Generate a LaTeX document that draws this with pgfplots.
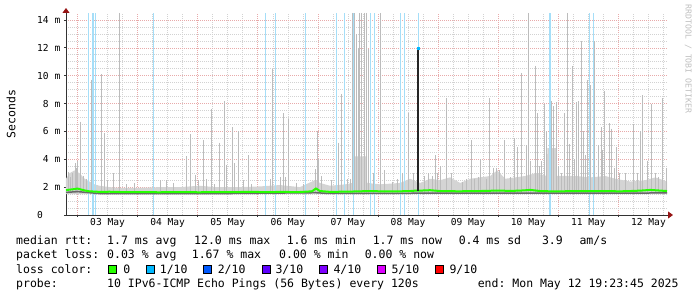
\documentclass[border=0pt]{standalone}
\usepackage{fontspec}
\setmonofont{DejaVu Sans Mono}
\usepackage{pgfplots}
\usepackage{pgfplotstable}
\pgfplotsset{compat=1.18}
\usetikzlibrary{arrows.meta}
\definecolor{gridmaj}{RGB}{232,170,170}
\definecolor{gridmin}{RGB}{210,210,210}
\definecolor{smoke}{RGB}{212,212,212}
\definecolor{spike}{RGB}{188,188,188}
\definecolor{smokedark}{RGB}{105,105,105}
\definecolor{lossbar}{RGB}{165,222,248}
\definecolor{loss0}{RGB}{38,255,0}
\definecolor{loss1}{RGB}{0,184,255}
\definecolor{loss2}{RGB}{0,89,255}
\definecolor{loss3}{RGB}{94,0,255}
\definecolor{loss4}{RGB}{126,0,255}
\definecolor{loss5}{RGB}{221,0,255}
\definecolor{loss9}{RGB}{255,0,0}
\definecolor{arrowred}{RGB}{150,20,20}
\newcommand{\txt}{\fontsize{11.5}{14}\selectfont\ttfamily}
\newcommand{\tck}{\fontsize{9.6}{10}\selectfont\ttfamily}

% spikes: h = hours since 03 May 00:00, t = top of spike (ms), e = t - 1.6
\pgfplotstableread{
h t e
-3.8 3.1 1.5
-2.8 2.7 1.1
-2.0 3.0 1.4
-0.92 3.7 2.1
-0.4 3.4 1.8
0 3.9 2.3
1.2 6.7 5.1
2.4 2.8 1.2
3.6 2.6 1.0
5.4 9.7 8.1
7.2 2.7 1.1
9.72 10.1 8.5
10.6 5.9 4.3
12.0 2.5 0.9
14.4 3.0 1.4
16.8 14.5 12.9
19.6 2.2 0.6
22.8 2.3 0.7
33.0 2.5 0.9
35.6 2.5 0.9
38.4 2.3 0.7
43.7 4.2 2.6
45.1 5.8 4.2
47.0 2.9 1.3
48.4 2.5 0.9
50.4 5.4 3.8
51.6 2.6 1.0
53.7 7.6 6.0
54.8 2.2 0.6
56.5 5.2 3.6
58.5 8.2 6.6
59.5 3.6 2.0
61.7 6.3 4.7
62.7 3.7 2.1
64.1 6.0 4.4
66.1 2.5 0.9
68.1 4.3 2.7
69.6 2.2 0.6
77.1 2.6 1.0
77.9 10.5 8.9
79.1 2.5 0.9
81.2 2.7 1.1
82.1 7.3 5.7
83.2 2.7 1.1
84.4 6.9 5.3
87.6 2.3 0.7
90.4 2.2 0.6
95.0 3.3 1.7
95.7 6.0 4.4
96.4 4.0 2.4
97.6 2.8 1.2
101.6 2.5 0.9
103.5 8.8 7.2
104.4 5.2 3.6
105.3 8.7 7.1
106.7 3.0 1.4
107.7 2.6 1.0
109.1 2.6 1.0
110.0 14.5 12.9
110.8 14.5 12.9
111.6 13.0 11.4
112.3 12.0 10.4
112.8 14.5 12.9
113.6 14.5 12.9
114.5 14.5 12.9
115.2 14.5 12.9
116.0 11.9 10.3
116.8 8.5 6.9
118.0 3.0 1.4
118.4 7.5 5.9
120.8 14.5 12.9
122.4 3.2 1.6
125.6 2.4 0.8
127.9 2.6 1.0
129.6 3.0 1.4
130.4 5.3 3.7
132.1 7.3 5.7
134.1 3.0 1.4
136.0 13.2 11.6
138.4 2.8 1.2
140.0 3.0 1.4
141.6 2.8 1.2
142.8 4.3 2.7
143.6 3.0 1.4
144.8 3.5 1.9
147.5 8.4 6.8
149.5 3.0 1.4
153.6 2.4 0.8
155.2 2.6 1.0
157.3 5.4 3.8
158.4 2.6 1.0
160.0 2.7 1.1
161.1 4.0 2.4
163.2 2.6 1.0
164.4 8.4 6.8
166.0 3.4 1.8
167.2 3.4 1.8
168.4 3.2 1.6
170.4 5.4 3.8
173.1 2.7 1.1
174.4 5.5 3.9
175.6 4.9 3.3
177.2 10.2 8.6
179.1 5.0 3.4
180.0 14.5 12.9
180.8 3.9 2.3
182.7 10.7 9.1
183.5 7.3 5.7
184.4 3.5 1.9
185.2 3.9 2.3
186.4 8.0 6.4
187.2 6.0 4.4
188.6 14.5 12.9
189.2 8.2 6.6
190.0 7.8 6.2
191.2 8.1 6.5
192.0 3.5 1.9
193.2 3.0 1.4
194.4 7.3 5.7
195.7 14.5 12.9
196.4 5.1 3.5
197.5 10.7 9.1
198.4 4.0 2.4
199.3 8.1 6.5
200.0 8.2 6.6
201.2 12.5 10.9
202.0 6.0 4.4
202.8 4.3 2.7
203.7 9.7 8.1
204.8 9.3 7.7
206.6 12.5 10.9
208.0 5.0 3.4
209.1 6.3 4.7
209.7 4.7 3.1
210.6 8.9 7.3
212.4 6.6 5.0
213.2 6.2 4.6
214.4 3.4 1.8
215.2 4.9 3.3
216.4 3.0 1.4
218.8 3.0 1.4
222.0 6.5 4.9
223.6 3.0 1.4
224.8 6.0 4.4
225.6 8.6 7.0
227.6 3.9 2.3
229.3 8.0 6.4
230.8 3.0 1.4
232.0 2.7 1.1
233.5 8.4 6.8
235.1 3.4 1.8
}\spikes

\begin{document}
\begin{tikzpicture}[x=1pt,y=1pt]
\path[use as bounding box] (0,0) rectangle (697,297);
\begin{axis}[
  at={(66pt,82pt)}, anchor=south west,
  scale only axis, width=601pt, height=202pt,
  xmin=-4.6, xmax=235.4, ymin=0, ymax=14.5,
  axis lines=left,
  axis line style={draw=black!80, line width=0.8pt, -{Triangle[length=5pt,width=7pt,color=arrowred]}},
  x axis line style={shorten >=-6pt},
  y axis line style={shorten >=-5pt},
  xtick={0,24,...,216},
  xticklabels={,,,,,,,,,},
  minor xtick={6,12,18,30,36,42,54,60,66,78,84,90,102,108,114,126,132,138,150,156,162,174,180,186,198,204,210,222,228,234},
  extra x ticks={12,36,60,84,108,132,156,180,204,228},
  extra x tick labels={03 May,04 May,05 May,06 May,07 May,08 May,09 May,10 May,11 May,12 May},
  extra x tick style={grid=none, major tick length=0pt},
  ytick={0,2,...,14},
  yticklabels={\rlap{0}\phantom{14 m},2 m,4 m,6 m,8 m,10 m,12 m,14 m},
  minor ytick={0.5,1,1.5,2.5,3,3.5,4.5,5,5.5,6.5,7,7.5,8.5,9,9.5,10.5,11,11.5,12.5,13,13.5},
  grid=both,
  major grid style={draw=gridmaj, dash pattern=on 1pt off 1pt, line width=0.65pt},
  minor grid style={draw=gridmin, dash pattern=on 1pt off 1pt, line width=0.65pt},
  tick align=outside, major tick length=2pt, minor tick length=0pt,
  tick style={draw=black!80, line width=0.8pt},
  ticklabel style={font=\tck},
  yticklabel style={inner sep=0pt, xshift=-3.5pt},
  xticklabel style={inner sep=0pt, yshift=-3pt},
  ylabel={Seconds},
  ylabel style={font=\txt, at={(axis description cs:-0.0915,0.5)}, anchor=center},
]
% smoke band
\addplot[fill=smoke, draw=none, forget plot] coordinates {
(-4.6,2.6) (-3.2,3.0) (-1.2,3.2) (0.8,3.0) (2.8,2.6) (4.8,2.4) (6.8,2.2) (8.8,2.1)
(12.8,2.0) (16.8,1.95) (24.8,1.95) (32.8,2.0) (40.8,2.0) (48.8,2.1) (54.8,2.0)
(64.8,2.0) (72.8,2.05) (80.8,2.15) (88.8,2.0) (94.8,2.5) (96.8,2.3) (100.8,2.1)
(106.8,2.2) (109.9,2.3) (110.0,4.2) (115.6,4.2) (115.7,2.3) (120.8,2.2) (128.8,2.3)
(132.8,2.6) (136.8,2.3) (140.8,2.6) (144.8,2.5) (148.8,2.7) (152.8,2.3) (156.8,2.6)
(160.8,2.7) (164.8,2.8) (167.6,3.2) (170.8,2.6) (174.8,2.7) (178.8,2.8) (182.8,3.0)
(187.5,2.8) (187.6,4.8) (191.2,4.8) (191.3,2.8) (198.8,2.8) (204.8,2.7) (210.8,2.8)
(214.8,2.6) (220.8,2.4) (226.8,2.5) (230.8,2.7) (235.4,2.4)
(235.4,1.5) (-4.6,1.5)};
% spikes
\addplot[draw=none, mark=none, forget plot,
  error bars/.cd, y dir=minus, y explicit, error mark=none,
  error bar style={draw=spike, line width=1pt, solid}]
  table[x=h, y=t, y error=e] {\spikes};
% loss bars (1/10)
\addplot[ycomb, draw=lossbar, line width=1pt, mark=none, forget plot] coordinates {
(4.52,14.5) (5.88,14.5) (6.28,14.5) (7.08,14.5) (30.4,14.5) (75.08,14.5) (78.92,14.5)
(91.08,14.5) (103.32,14.5) (106.52,14.5) (110.12,14.5) (117.08,14.5) (118.4,14.5)
(129.08,14.5) (130.68,14.5) (136.12,14.5) (188.4,14.5) (189.0,14.5) (204.52,14.5) (206.12,14.5)};
% dark core of the smoke
\addplot[draw=smokedark, line width=1.5pt, forget plot] coordinates {
(-4.6,1.62) (0,1.68) (4.8,1.6) (8.8,1.54) (60,1.54) (95.2,1.6) (100,1.55) (160,1.57) (235.4,1.58)};
% median rtt
\addplot[draw=loss0, line width=2pt, forget plot] coordinates {
(-4.6,1.78) (-3.2,1.82) (-1.6,1.85) (0,1.9) (1.6,1.82) (3.2,1.75) (4.8,1.7) (6.8,1.68)
(8.8,1.66) (12.8,1.67) (16.8,1.65) (20.8,1.64) (24.8,1.65) (28.8,1.64) (32.8,1.63)
(36.8,1.65) (40.8,1.65) (44.8,1.64) (48.8,1.63) (52.8,1.65) (56.8,1.65) (60.8,1.64)
(64.8,1.65) (68.8,1.66) (72.8,1.65) (76.8,1.64) (80.8,1.66) (84.8,1.65) (88.8,1.65)
(93.6,1.7) (95.2,1.9) (96.8,1.72) (100.8,1.66) (104.8,1.67) (108.8,1.68) (112.8,1.7)
(116.8,1.72) (120.8,1.7) (124.8,1.69) (128.8,1.7) (132.8,1.72) (135.2,1.75) (136.8,1.75)
(140.8,1.78) (144.8,1.72) (148.8,1.71) (152.8,1.7) (156.8,1.72) (160.8,1.72) (164.8,1.74)
(168.8,1.75) (172.8,1.73) (176.8,1.75) (180.8,1.8) (184.8,1.72) (188.8,1.7) (192.8,1.7)
(196.8,1.71) (200.8,1.72) (204.8,1.71) (208.8,1.72) (212.8,1.71) (216.8,1.7) (220.8,1.72)
(224.8,1.75) (228.8,1.8) (232.8,1.75) (235.4,1.72)};
% median spike on 08 May
\addplot[draw=none, mark=none, forget plot,
  error bars/.cd, y dir=minus, y explicit, error mark=none,
  error bar style={draw=black!85, line width=2pt, solid}]
  coordinates {(136.1,12.0) +- (0,10.3)};
\addplot[only marks, mark=square*, mark size=1pt, color=loss1, forget plot] coordinates {(136.1,12.0)};
\end{axis}
% credit
\node[rotate=-90, font=\fontsize{8.2}{9}\selectfont\ttfamily, text=black!25, inner sep=0pt] at (688.3,238) {RRDTOOL / TOBI OETIKER};
% legend text
\node[anchor=base west, inner sep=0pt, font=\txt] at (16,52) {median rtt:};
\node[anchor=base west, inner sep=0pt, font=\txt] at (107,52) {1.7 ms avg};
\node[anchor=base west, inner sep=0pt, font=\txt] at (194,52) {12.0 ms max};
\node[anchor=base west, inner sep=0pt, font=\txt] at (286.6,52) {1.6 ms min};
\node[anchor=base west, inner sep=0pt, font=\txt] at (372.6,52) {1.7 ms now};
\node[anchor=base west, inner sep=0pt, font=\txt] at (458.6,52) {0.4 ms sd};
\node[anchor=base west, inner sep=0pt, font=\txt] at (541.8,52) {3.9};
\node[anchor=base west, inner sep=0pt, font=\txt] at (579.3,52) {am/s};
\node[anchor=base west, inner sep=0pt, font=\txt] at (16,38) {packet loss:};
\node[anchor=base west, inner sep=0pt, font=\txt] at (107,38) {0.03 \% avg};
\node[anchor=base west, inner sep=0pt, font=\txt] at (191.7,38) {1.67 \% max};
\node[anchor=base west, inner sep=0pt, font=\txt] at (279,38) {0.00 \% min};
\node[anchor=base west, inner sep=0pt, font=\txt] at (364.6,38) {0.00 \% now};
\node[anchor=base west, inner sep=0pt, font=\txt] at (16,23.7) {loss color:};
\foreach \bx/\col/\lab/\lx in {108/loss0/0/123.1, 146/loss1/1\slash 10/159.7, 203.6/loss2/2\slash 10/217.6, 262/loss3/3\slash 10/275.3, 319.8/loss4/4\slash 10/333.3, 377.7/loss5/5\slash 10/391.3, 435.6/loss9/9\slash 10/449.3}{
  \draw[fill=\col, draw=black, line width=0.8pt] (\bx,23.7) rectangle ++(8,7.6);
  \node[anchor=base west, inner sep=0pt, font=\txt] at (\lx,23.7) {\lab};
}
\node[anchor=base west, inner sep=0pt, font=\txt] at (16,9.7) {probe:};
\node[anchor=base west, inner sep=0pt, font=\txt] at (107,9.7) {10 IPv6-ICMP Echo Pings (56 Bytes) every 120s};
\node[anchor=base west, inner sep=0pt, font=\txt] at (477.6,9.7) {end: Mon May 12 19:23:45 2025};
\end{tikzpicture}
\end{document}
